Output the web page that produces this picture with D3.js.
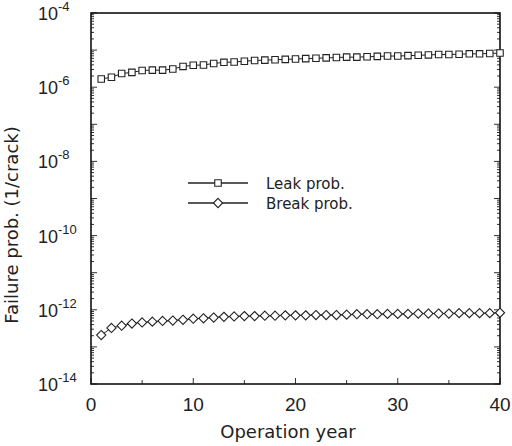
<!DOCTYPE html>
<html>
<head>
<meta charset="utf-8">
<script src="https://cdn.jsdelivr.net/npm/d3@7"></script>
<style>
  body { margin: 0; background: #fff; }
  text { font-family: "Liberation Sans", Arial, sans-serif; fill: #222; }
  .wide { font-family: "DejaVu Sans", sans-serif; }
</style>
</head>
<body>
<svg id="chart" width="512" height="446"></svg>
<script>
// operation years 1..40
const years = [1,2,3,4,5,6,7,8,9,10,11,12,13,14,15,16,17,18,19,20,
               21,22,23,24,25,26,27,28,29,30,31,32,33,34,35,36,37,38,39,40];

// leak probability (1/crack)
const leakProb = [1.66e-6,1.86e-6,2.34e-6,2.51e-6,2.82e-6,2.88e-6,2.88e-6,3.09e-6,3.63e-6,3.89e-6,
                  3.98e-6,4.37e-6,4.68e-6,4.79e-6,5.01e-6,5.25e-6,5.37e-6,5.50e-6,5.62e-6,5.75e-6,
                  5.89e-6,6.03e-6,6.17e-6,6.31e-6,6.46e-6,6.46e-6,6.61e-6,6.76e-6,6.92e-6,6.92e-6,
                  7.08e-6,7.24e-6,7.41e-6,7.59e-6,7.59e-6,7.76e-6,7.94e-6,7.94e-6,8.13e-6,8.32e-6];

// break probability (1/crack)
const breakProb = [2.09e-13,3.24e-13,3.72e-13,4.27e-13,4.57e-13,4.79e-13,5.01e-13,5.13e-13,5.37e-13,5.75e-13,
                   5.89e-13,6.17e-13,6.46e-13,6.61e-13,6.76e-13,6.76e-13,6.92e-13,6.92e-13,7.08e-13,7.08e-13,
                   7.08e-13,7.24e-13,7.24e-13,7.24e-13,7.41e-13,7.59e-13,7.59e-13,7.59e-13,7.76e-13,7.76e-13,
                   7.76e-13,7.94e-13,7.94e-13,7.94e-13,7.94e-13,8.13e-13,8.13e-13,8.13e-13,8.13e-13,8.32e-13];

const xTicks = [0, 10, 20, 30, 40];
const yTickExps = [-4, -6, -8, -10, -12, -14];

const seriesNames = ["Leak prob.", "Break prob."];

const svg = d3.select("#chart");
const plotL = 91, plotR = 500, plotT = 13, plotB = 384;

const x = d3.scaleLinear().domain([0, 40]).range([plotL, plotR]);
const y = d3.scaleLog().domain([1e-14, 1e-4]).range([plotB, plotT]);

// minor/major ticks on y (inside, both sides)
const yMinor = [];
for (let e = -14; e < -4; e++) {
    for (let m = 2; m <= 9; m++) yMinor.push(m * Math.pow(10, e));
}
const yMajor = d3.range(-14, -3).map(e => Math.pow(10, e));

const ticks = svg.append("g").attr("stroke", "#333").attr("stroke-width", 1);
[plotL, plotR].forEach((ax, i) => {
    const dir = i === 0 ? 1 : -1;
    ticks.selectAll(null).data(yMinor).enter().append("line")
        .attr("x1", ax).attr("x2", ax + dir * 3)
        .attr("y1", d => y(d)).attr("y2", d => y(d));
    ticks.selectAll(null).data(yMajor).enter().append("line")
        .attr("x1", ax).attr("x2", ax + dir * 6)
        .attr("y1", d => y(d)).attr("y2", d => y(d));
});
// x ticks at bottom
ticks.selectAll(null).data(xTicks).enter().append("line")
    .attr("x1", d => x(d)).attr("x2", d => x(d))
    .attr("y1", plotB).attr("y2", plotB - 6);
ticks.selectAll(null).data([5, 15, 25, 35]).enter().append("line")
    .attr("x1", d => x(d)).attr("x2", d => x(d))
    .attr("y1", plotB).attr("y2", plotB - 4);

// frame
svg.append("rect")
    .attr("x", plotL).attr("y", plotT)
    .attr("width", plotR - plotL).attr("height", plotB - plotT)
    .attr("fill", "none").attr("stroke", "#111").attr("stroke-width", 1.6);

// tick labels
svg.selectAll(".xl").data(xTicks).enter().append("text")
    .attr("x", d => x(d)).attr("y", 411)
    .attr("text-anchor", "middle").attr("font-size", 19)
    .text(d => d);

const yl = svg.selectAll(".yl").data(yTickExps).enter().append("text")
    .attr("x", 38).attr("y", d => y(Math.pow(10, d)) + 7)
    .attr("font-size", 18);
yl.append("tspan").text("10");
yl.append("tspan").attr("dy", -9).attr("font-size", 13).text(d => d);

// axis titles
svg.append("text").attr("class", "wide")
    .attr("x", 288).attr("y", 438)
    .attr("text-anchor", "middle").attr("font-size", 18)
    .text("Operation year");
svg.append("text").attr("class", "wide")
    .attr("transform", "translate(18,225) rotate(-90)")
    .attr("text-anchor", "middle").attr("font-size", 18)
    .text("Failure prob. (1/crack)");

// markers
const squareSym = d3.symbol().type(d3.symbolSquare).size(42);
const diamondPath = "M0,-4.6L4.6,0L0,4.6L-4.6,0Z";

// series
const line = d3.line().x(d => x(d[0])).y(d => y(d[1]));
const leakData = years.map((yr, i) => [yr, leakProb[i]]);
const breakData = years.map((yr, i) => [yr, breakProb[i]]);

function drawSeries(data, shape) {
    svg.append("path").datum(data)
        .attr("d", line).attr("fill", "none")
        .attr("stroke", "#222").attr("stroke-width", 1);
    svg.append("g").selectAll("path").data(data).enter().append("path")
        .attr("transform", d => `translate(${x(d[0])},${y(d[1])})`)
        .attr("d", shape === "square" ? squareSym() : diamondPath)
        .attr("fill", "#fff").attr("stroke", "#222").attr("stroke-width", 1.1);
}
drawSeries(leakData, "square");
drawSeries(breakData, "diamond");

// legend
const legend = svg.append("g");
seriesNames.forEach((name, i) => {
    const ly = 183 + i * 20;
    legend.append("line")
        .attr("x1", 188).attr("x2", 248).attr("y1", ly).attr("y2", ly)
        .attr("stroke", "#222").attr("stroke-width", 1.3);
    legend.append("path")
        .attr("transform", `translate(218,${ly})`)
        .attr("d", i === 0 ? squareSym() : diamondPath)
        .attr("fill", "#fff").attr("stroke", "#222").attr("stroke-width", 1.1);
    legend.append("text").attr("class", "wide")
        .attr("x", 266).attr("y", ly + 6)
        .attr("font-size", 15)
        .text(name);
});
</script>
</body>
</html>
